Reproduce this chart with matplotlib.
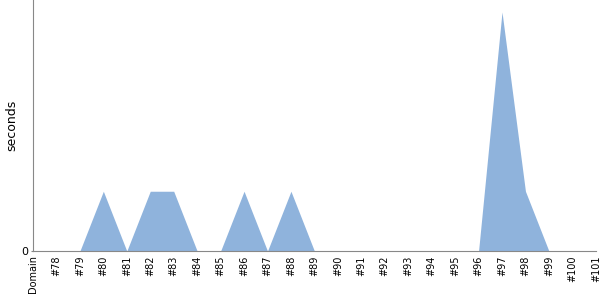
import matplotlib
matplotlib.use("Agg")
import matplotlib.pyplot as plt

labels = ["Domain", "#78", "#79", "#80", "#81", "#82", "#83", "#84", "#85",
          "#86", "#87", "#88", "#89", "#90", "#91", "#92", "#93", "#94",
          "#95", "#96", "#97", "#98", "#99", "#100", "#101"]
seconds = [0, 0, 0, 1, 0, 1, 1, 0, 0, 1, 0, 1, 0, 0, 0, 0, 0, 0, 0, 0, 4, 1, 0, 0, 0]

fig = plt.figure(figsize=(6, 3), dpi=100)
ax = fig.add_axes([0.055, 0.1633, 0.938, 0.8367])

x = list(range(len(labels)))
ax.fill_between(x, seconds, 0, color="#8fb3dc", linewidth=0)

ax.set_xlim(0, len(labels) - 1)
ax.set_ylim(0, 4.2)
ax.set_yticks([0])
ax.set_xticks(x)
ax.set_xticklabels(labels, rotation=90, fontsize=7)
ax.tick_params(axis="y", labelsize=8, length=1.5, pad=2, color="#888888")
ax.tick_params(axis="x", length=0, pad=3)
ax.set_ylabel("seconds", fontsize=9)
ax.yaxis.set_label_coords(-0.027, 0.5)

for s in ["top", "right"]:
    ax.spines[s].set_visible(False)
for s in ["left", "bottom"]:
    ax.spines[s].set_color("#888888")

fig.savefig("out.png", dpi=100)
